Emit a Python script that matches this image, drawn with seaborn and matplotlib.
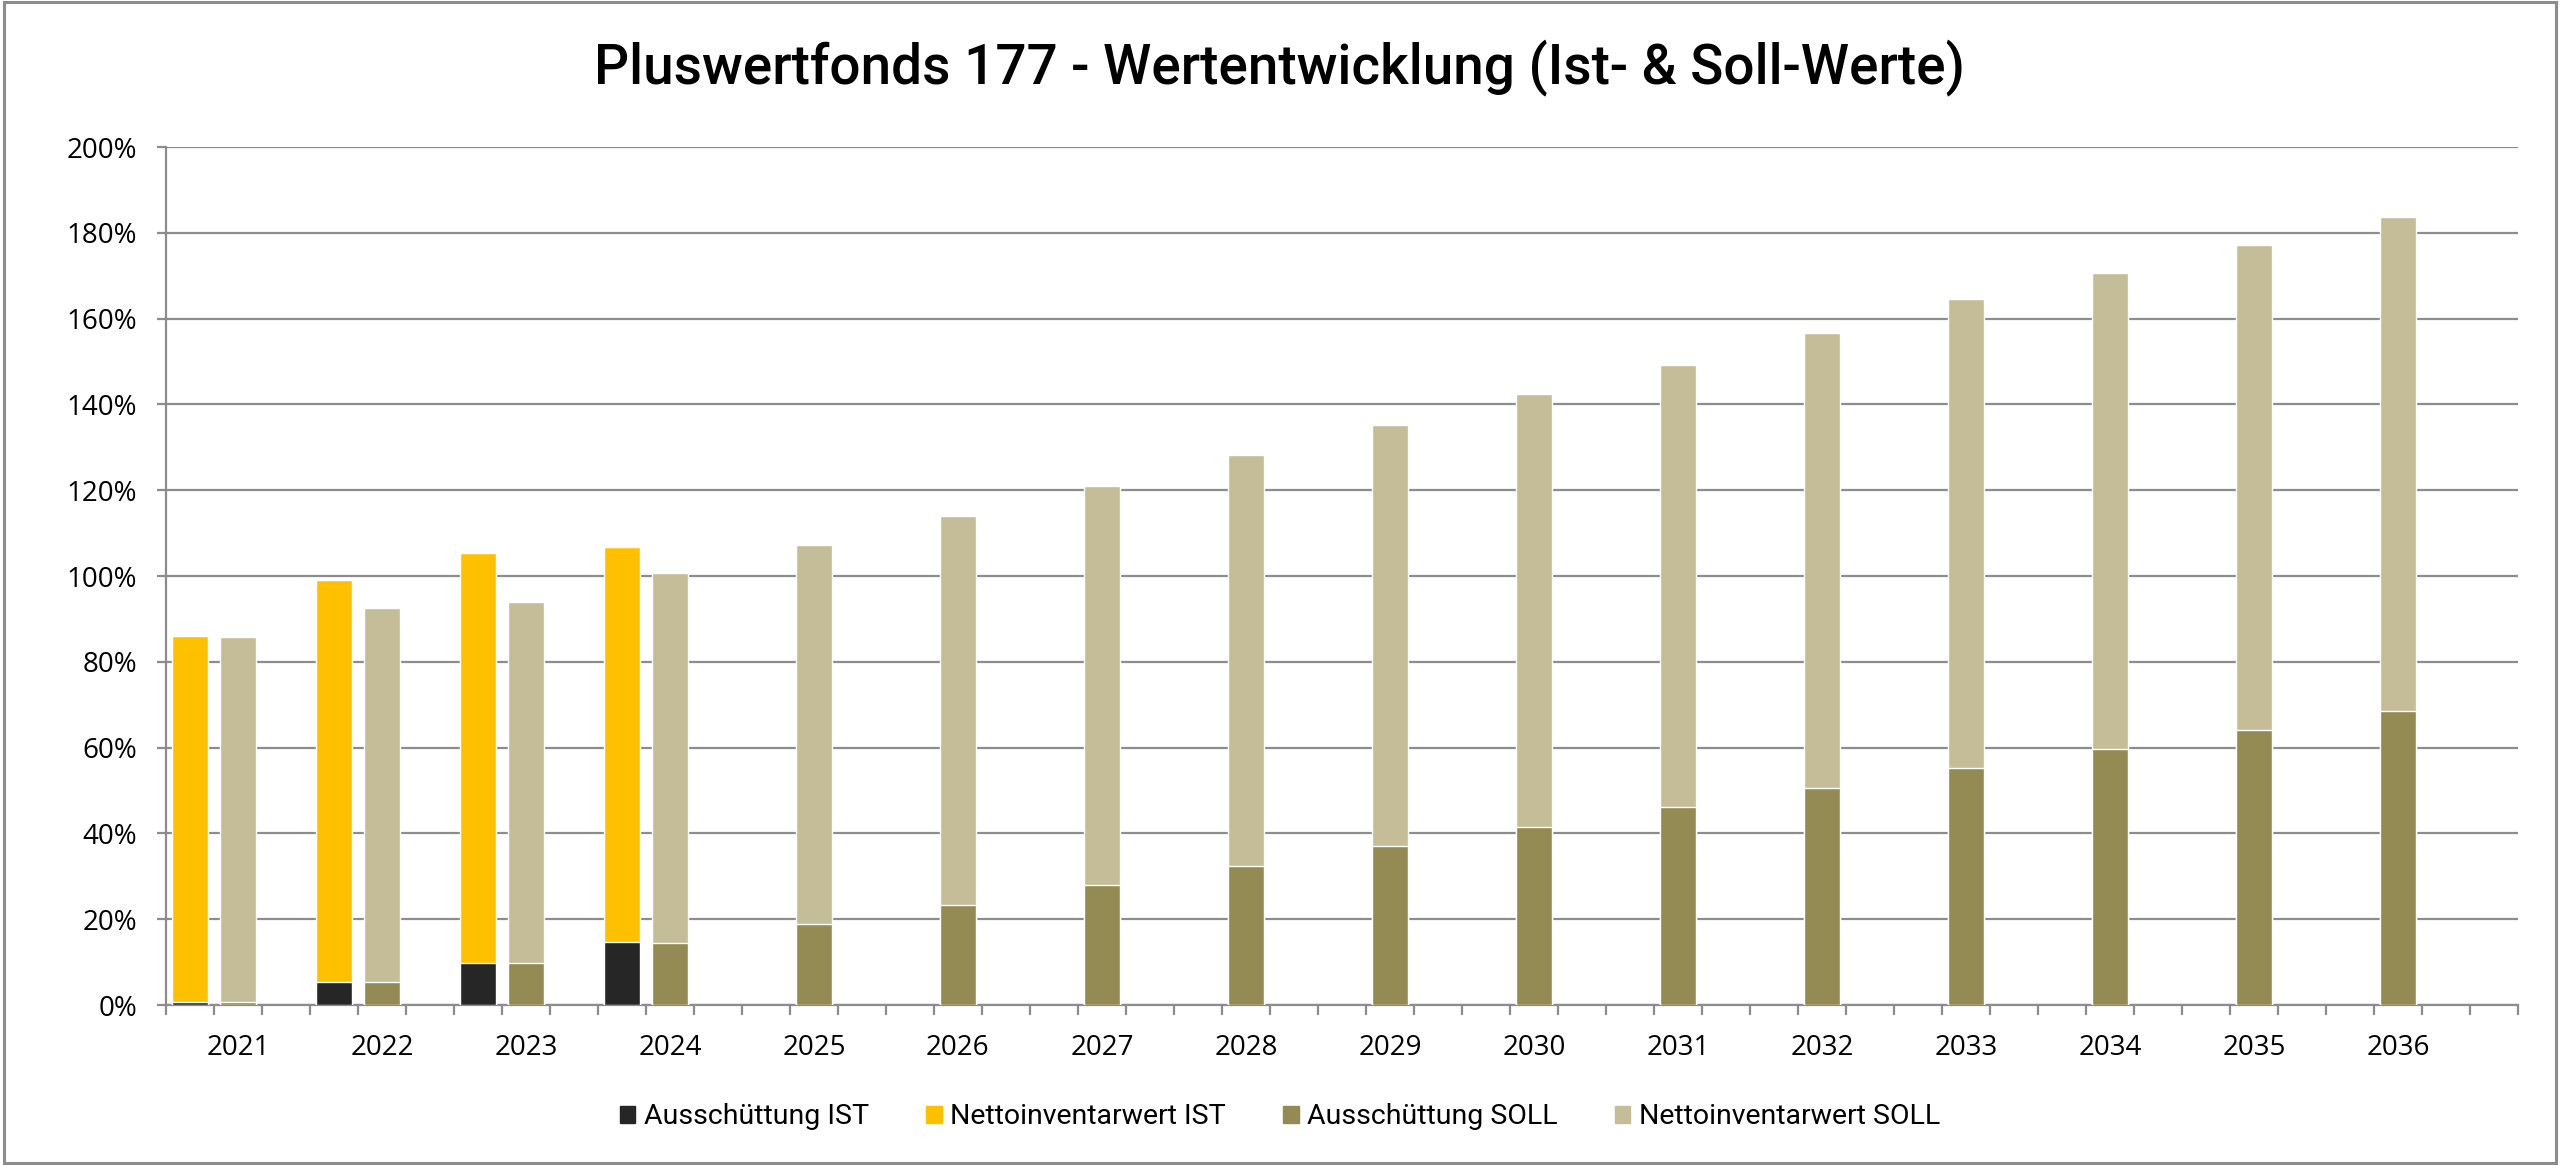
import numpy as np
import pandas as pd
import seaborn as sns
import matplotlib
matplotlib.use("Agg")
import matplotlib.pyplot as plt
from matplotlib.patches import Rectangle, Patch

# values in % of the subscribed capital
years = list(range(2021, 2037))
ist_years = [2021, 2022, 2023, 2024]
aus_ist = [0.8, 5.4, 9.9, 14.6]
netto_ist = [85.2, 93.6, 95.4, 92.1]
aus_soll = [0.8, 5.3, 9.8, 14.4, 18.9, 23.4, 27.9, 32.5, 37.0, 41.5, 46.1, 50.6, 55.2, 59.6, 64.0, 68.5]
netto_soll = [85.0, 87.2, 84.2, 86.3, 88.3, 90.6, 93.0, 95.6, 98.3, 100.9, 103.0, 106.1, 109.3, 111.1, 113.2, 115.3]

col_aus_ist = "#262626"
col_netto_ist = "#FFC000"
col_aus_soll = "#948A54"
col_netto_soll = "#C4BD97"
grey = "#8C8C8C"

sns.set_theme(style="white")
plt.rcParams["font.family"] = ["Open Sans", "DejaVu Sans"]
plt.rcParams["text.color"] = "black"
plt.rcParams["xtick.labelcolor"] = "black"
plt.rcParams["ytick.labelcolor"] = "black"
narrow = ["Roboto", "DejaVu Sans"]

# three category slots per year (IST, SOLL, blank), plus one trailing slot
n_slots = len(years) * 3 + 1
slot_order = list(range(n_slots))

ist = pd.DataFrame({"slot": [(y - years[0]) * 3 for y in ist_years],
                    "aus": aus_ist, "netto": netto_ist})
ist["total"] = ist["aus"] + ist["netto"]
soll = pd.DataFrame({"slot": [(y - years[0]) * 3 + 1 for y in years],
                     "aus": aus_soll, "netto": netto_soll})
soll["total"] = soll["aus"] + soll["netto"]

fig = plt.figure(figsize=(25.6, 11.65), dpi=100)
ax = fig.add_axes([0.0648, 0.1373, 0.9188, 0.7365])

# stacked bars: draw the total first, then the distribution part over it
for df, col, c in [(ist, "total", col_netto_ist), (ist, "aus", col_aus_ist),
                   (soll, "total", col_netto_soll), (soll, "aus", col_aus_soll)]:
    sns.barplot(data=df, x="slot", y=col, order=slot_order, color=c,
                saturation=1, width=0.75, errorbar=None, ax=ax, zorder=3)

ax.set_xlabel("")
ax.set_ylabel("")
ax.set_xlim(-0.5, n_slots - 0.5)
ax.set_ylim(0, 200)

ax.set_yticks(np.arange(0, 201, 20))
ax.set_yticklabels([f"{v}%" for v in range(0, 201, 20)], fontsize=20)
ax.yaxis.grid(True, color=grey, linewidth=1.6, zorder=0)
ax.set_axisbelow(True)

ax.set_xticks(np.arange(-0.5, n_slots, 1))
ax.set_xticklabels([])
ax.set_xticks([(y - years[0]) * 3 + 1 for y in years], minor=True)
ax.set_xticklabels([str(y) for y in years], minor=True, fontsize=20)
ax.tick_params(axis="x", which="major", direction="out", length=7, width=1.6,
               color=grey, bottom=True)
ax.tick_params(axis="x", which="minor", length=0, pad=21)
ax.tick_params(axis="y", direction="out", length=6.5, width=1.6, color=grey,
               left=True, pad=14)

for s in ["top", "right"]:
    ax.spines[s].set_visible(False)
for s in ["left", "bottom"]:
    ax.spines[s].set_color(grey)
    ax.spines[s].set_linewidth(1.6)

fig.text(0.5, 1 - 84 / 1165, "Pluswertfonds 177 - Wertentwicklung (Ist- & Soll-Werte)",
         ha="center", va="baseline", fontsize=39.5, family=narrow, fontweight="medium")

handles = [Patch(color=c) for c in [col_aus_ist, col_netto_ist, col_aus_soll, col_netto_soll]]
labels = ["Ausschüttung IST", "Nettoinventarwert IST", "Ausschüttung SOLL", "Nettoinventarwert SOLL"]
fig.legend(handles, labels, loc="center", bbox_to_anchor=(0.5, 1 - 1117 / 1165), ncol=4,
           frameon=False, prop={"family": narrow, "size": 20.5}, handlelength=0.55,
           handleheight=0.55, handletextpad=0.3, columnspacing=2.0)

fig.patches.append(Rectangle((0.0015, 0.002), 0.997, 0.996, transform=fig.transFigure,
                             fill=False, edgecolor=grey, linewidth=2.2))

fig.savefig("out.png", dpi=100)
